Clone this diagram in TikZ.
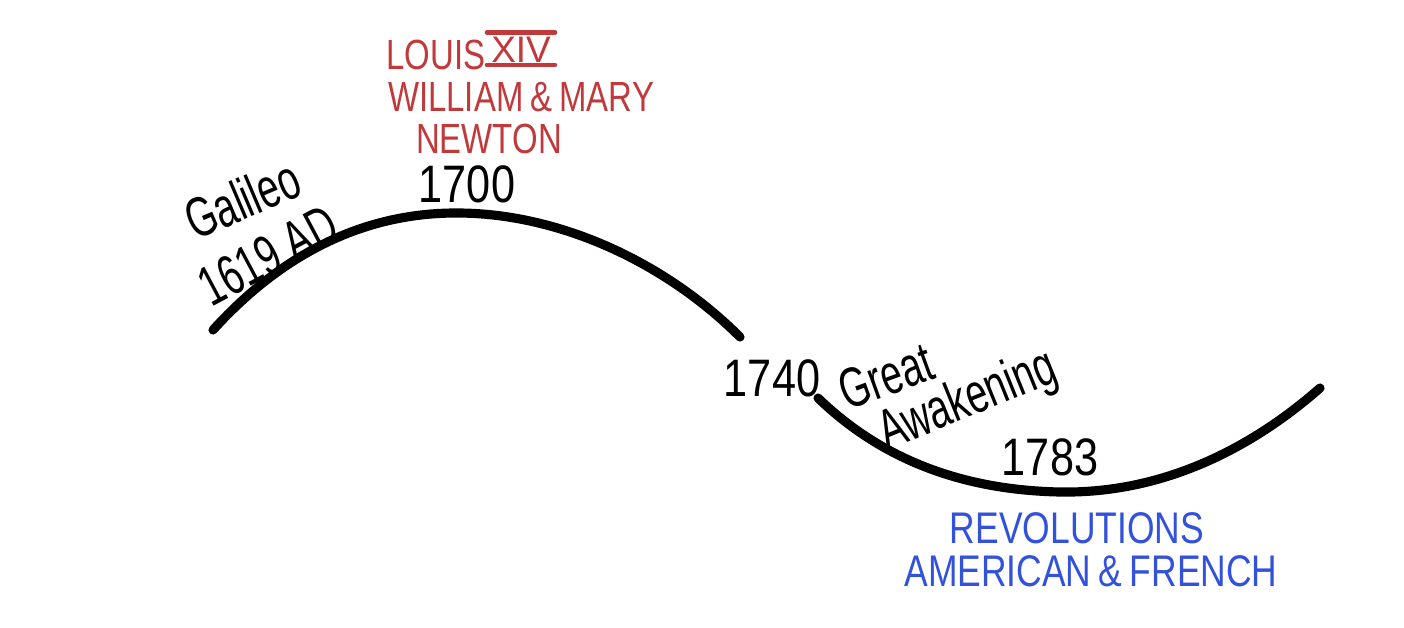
\documentclass[tikz,border=0pt]{standalone}
\usepackage{fontspec}
\newfontfamily\hand[FakeStretch=0.78]{Liberation Sans}
\newfontfamily\bluehand[FakeStretch=0.8]{Liberation Sans}
\newfontfamily\script[FakeStretch=0.82]{Liberation Sans}
\newfontfamily\narrow[FakeStretch=0.68]{Liberation Sans}
\newfontfamily\plain{Liberation Sans}
\definecolor{penred}{HTML}{C0393B}
\definecolor{penblue}{HTML}{3252DC}
\begin{document}
\begin{tikzpicture}[x=0.01cm,y=-0.01cm,
  wave/.style={line width=2.6pt,line cap=round,black},
  redtxt/.style={text=penred,font=\hand\fontsize{12}{14}\selectfont,inner sep=0pt},
  bluetxt/.style={text=penblue,font=\bluehand\fontsize{12.6}{15}\selectfont,inner sep=0pt},
  year/.style={text=black,font=\script\fontsize{15}{17}\selectfont,inner sep=0pt},
  note/.style={text=black,font=\narrow\fontsize{16}{18}\selectfont,inner sep=0pt}]
\useasboundingbox (0,0) rectangle (1404,627);
% curves
\coordinate (c1s) at (213,330);
\coordinate (c1p) at (460,213);
\coordinate (c1e) at (740,337);
\coordinate (c2s) at (818,398);
\coordinate (c2b) at (1060,492);
\coordinate (c2e) at (1320,388);
\draw[wave] (c1s) .. controls (290,245) and (375,212) .. (c1p)
  .. controls (560,214) and (665,262) .. (c1e);
\draw[wave] (c2s) .. controls (880,458) and (960,490) .. (c2b)
  .. controls (1180,494) and (1270,432) .. (c2e);
% labels
\node[note,rotate=23] (gal) at (242,199) {Galileo};
\node[note,rotate=28] (y1619) at (268,255) {1619 AD};
\node[year] (y1700) at (467,184) {1700};
\node[redtxt] (louis) at (436,55) {LOUIS};
\node[text=penred,font=\plain\fontsize{10.5}{12}\selectfont,inner sep=0pt] (xiv) at (521,50) {XIV};
\draw[penred,line width=1.3pt,line cap=round] ([yshift=1.2pt,xshift=-1pt]xiv.north west) -- ([yshift=1.2pt,xshift=1pt]xiv.north east);
\draw[penred,line width=1.3pt,line cap=round] ([yshift=-0.4pt,xshift=-1pt]xiv.south west) -- ([yshift=-0.4pt,xshift=1pt]xiv.south east);
\node[redtxt] (wm) at (521,97) {WILLIAM\,\&\,MARY};
\node[redtxt] (newton) at (489,139) {NEWTON};
\node[year] (y1740) at (772,378) {1740};
\node[note,rotate=20] (great) at (886,376) {Great};
\node[note,rotate=22] (awak) at (968,402) {Awakening};
\node[year] (y1783) at (1050,457) {1783};
\node[bluetxt] (rev) at (1077,528) {REVOLUTIONS};
\node[bluetxt] (amf) at (1091,571) {AMERICAN\,\&\,FRENCH};
\end{tikzpicture}
\end{document}
